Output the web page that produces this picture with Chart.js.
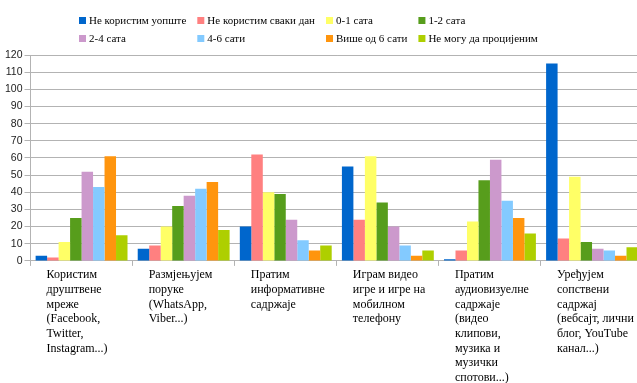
<!DOCTYPE html>
<html>
<head>
<meta charset="utf-8">
<script src="https://cdn.jsdelivr.net/npm/chart.js@4/dist/chart.umd.min.js"></script>
<style>
  html, body { margin: 0; padding: 0; background: #fff; overflow: hidden; }
  #wrap { width: 671px; height: 387px; }
</style>
</head>
<body>
<div id="wrap"><canvas id="chart" width="671" height="387"></canvas></div>
<script>
// Activities (wrapped over several lines)
const categories = [
  ["Користим", "друштвене", "мреже", "(Facebook,", "Twitter,", "Instagram...)"],
  ["Размјењујем", "поруке", "(WhatsApp,", "Viber...)"],
  ["Пратим", "информативне", "садржаје"],
  ["Играм видео", "игре и игре на", "мобилном", "телефону"],
  ["Пратим", "аудиовизуелне", "садржаје", "(видео", "клипови,", "музика и", "музички", "спотови...)"],
  ["Уређујем", "сопствени", "садржај", "(вебсајт, лични", "блог, YouTube", "канал...)"]
];

// Time spent per activity
const seriesNames = [
  "Не користим уопште", "Не користим сваки дан", "0-1 сата", "1-2 сата",
  "2-4 сата", "4-6 сати", "Више од 6 сати", "Не могу да процијеним"
];
const notAtAll    = [3, 7, 20, 55, 1, 115];
const notDaily    = [2, 9, 62, 24, 6, 13];
const upTo1h      = [11, 20, 40, 61, 23, 49];
const from1to2h   = [25, 32, 39, 34, 47, 11];
const from2to4h   = [52, 38, 24, 20, 59, 7];
const from4to6h   = [43, 42, 12, 9, 35, 6];
const over6h      = [61, 46, 6, 3, 25, 3];
const cannotTell  = [15, 18, 9, 6, 16, 8];

const seriesValues = [notAtAll, notDaily, upTo1h, from1to2h, from2to4h, from4to6h, over6h, cannotTell];
const seriesColors = ["#0066cc", "#ff8080", "#ffff66", "#579d1c", "#cc99cc", "#83caff", "#ff950e", "#aecf00"];

const yMax = 120;
const yStep = 10;

const serif = "'Liberation Serif', 'Times New Roman', serif";
const sans = "'Liberation Sans', Arial, sans-serif";
const gridColor = "#b3b3b3";

// Legend laid out as a grid of 4 columns, drawn on the canvas
const gridLegend = {
  id: "gridLegend",
  afterDraw(chart) {
    const ctx = chart.ctx;
    const cols = 4, box = 7, gap = 3, colGap = 11, rowH = 18;
    const left = 79, top = 20.5;
    ctx.save();
    ctx.font = "11px " + serif;
    ctx.textBaseline = "middle";
    ctx.textAlign = "left";
    const sets = chart.data.datasets;
    const widths = [];
    for (let c = 0; c < cols; c++) {
      let w = 0;
      for (let i = c; i < sets.length; i += cols) {
        w = Math.max(w, ctx.measureText(sets[i].label).width);
      }
      widths.push(box + gap + w + colGap);
    }
    sets.forEach((ds, i) => {
      const c = i % cols, r = Math.floor(i / cols);
      let x = left;
      for (let k = 0; k < c; k++) x += widths[k];
      const y = top + r * rowH;
      ctx.fillStyle = ds.backgroundColor;
      ctx.fillRect(x, y - box / 2, box, box);
      ctx.fillStyle = "#000";
      ctx.fillText(ds.label, x + box + gap, y + 0.5);
    });
    ctx.restore();
  }
};

new Chart(document.getElementById("chart"), {
  type: "bar",
  data: {
    labels: categories,
    datasets: seriesNames.map((name, i) => ({
      label: name,
      data: seriesValues[i],
      backgroundColor: seriesColors[i],
      borderWidth: 0,
      categoryPercentage: 0.9,
      barPercentage: 1.0
    }))
  },
  options: {
    responsive: false,
    animation: false,
    layout: { padding: { top: 55, left: 3, right: 2, bottom: 0 } },
    plugins: {
      legend: { display: false },
      tooltip: { enabled: false }
    },
    scales: {
      x: {
        grid: {
          display: true,
          drawOnChartArea: false,
          drawTicks: true,
          tickLength: 5,
          color: gridColor,
          offset: true
        },
        border: { display: true, color: gridColor },
        ticks: {
          autoSkip: false,
          maxRotation: 0,
          minRotation: 0,
          align: "start",
          labelOffset: -35,
          padding: 2,
          color: "#000",
          font: { family: serif, size: 12, lineHeight: 1.22 }
        }
      },
      y: {
        min: 0,
        max: yMax,
        grid: {
          color: gridColor,
          tickLength: 6,
          drawTicks: true
        },
        border: { display: true, color: gridColor },
        ticks: {
          stepSize: yStep,
          padding: 2,
          color: "#222",
          font: { family: sans, size: 10.5 }
        }
      }
    }
  },
  plugins: [gridLegend]
});
</script>
</body>
</html>
